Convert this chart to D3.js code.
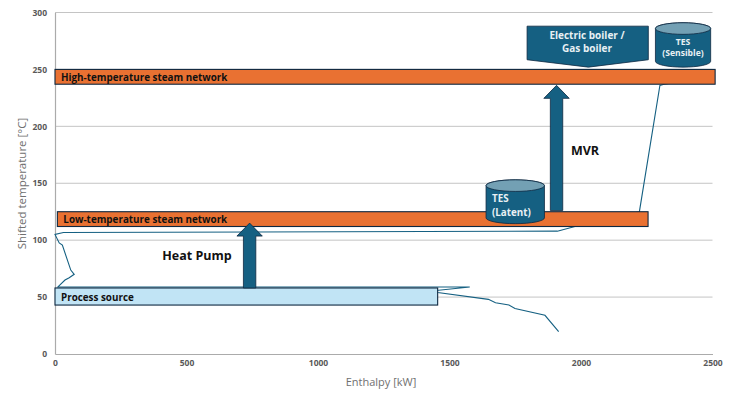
<!DOCTYPE html>
<html>
<head>
<meta charset="utf-8">
<script src="https://cdn.jsdelivr.net/npm/d3@7"></script>
<style>
  html, body { margin: 0; padding: 0; background: #fff; }
  svg { display: block; }
  text { font-family: "Open Sans", sans-serif; }
</style>
</head>
<body>
<svg width="731" height="393"></svg>
<script>
// composite curve
const curveEnthalpy = [1915, 1863, 1749, 1726, 1675, 1648, 1455, 1440, 1577, 11, 38, 54, 73, 60, 28, 16, 0, 32, 1910, 1977, 2222, 2300, 2316, 2400];
const curveTemp = [19.6, 34, 40, 43, 45, 48, 54, 55.5, 58.8, 59, 65, 67, 70, 73.7, 95.6, 97.6, 105, 106.7, 107.9, 112, 125, 236, 237, 240];

// network / source bars
const barNames = ["High-temperature steam network", "Low-temperature steam network", "Process source"];
const barStart = [0, 9, 0];
const barEnd = [2510, 2255, 1455];
const barTop = [250, 125, 58];
const barBottom = [237, 112, 43];

const xTicks = [0, 500, 1000, 1500, 2000, 2500];
const yTicks = [0, 50, 100, 150, 200, 250, 300];

const svg = d3.select("svg");
const x = d3.scaleLinear().domain([0, 2500]).range([55, 712.5]);
const y = d3.scaleLinear().domain([0, 300]).range([354, 12.5]);

const blue = "#156082";
const outline = "#0e2841";

// grid
svg.append("g").selectAll("line")
    .data(yTicks.slice(1))
    .enter()
    .append("line")
    .attr("x1", x(0))
    .attr("x2", x(2500))
    .attr("y1", d => y(d))
    .attr("y2", d => y(d))
    .attr("stroke", "#c4c4c4")
    .attr("stroke-width", 1);

// axes
const xAxis = svg.append("g")
    .attr("transform", `translate(0,${y(0)})`)
    .call(d3.axisBottom(x).tickValues(xTicks).tickFormat(d3.format("d")).tickSize(0).tickPadding(6));
const yAxis = svg.append("g")
    .attr("transform", `translate(${x(0)},0)`)
    .call(d3.axisLeft(y).tickValues(yTicks).tickFormat(d3.format("d")).tickSize(0).tickPadding(8));
[xAxis, yAxis].forEach(a => {
    a.select(".domain").attr("stroke", "#ababab").attr("stroke-width", 1.2);
    a.selectAll("text")
        .attr("fill", "#595959")
        .style("font-family", '"Open Sans", sans-serif')
        .style("font-size", "8.5px")
        .style("font-weight", 700);
});

svg.append("text")
    .attr("x", 381)
    .attr("y", 386)
    .attr("text-anchor", "middle")
    .attr("fill", "#707070")
    .style("font-size", "11px")
    .text("Enthalpy [kW]");
svg.append("text")
    .attr("transform", "translate(25.5,183.5) rotate(-90)")
    .attr("text-anchor", "middle")
    .attr("fill", "#707070")
    .style("font-size", "11.5px")
    .text("Shifted temperature [°C]");

// curve
const line = d3.line()
    .x((d, i) => x(curveEnthalpy[i]))
    .y((d, i) => y(curveTemp[i]));
svg.append("path")
    .attr("d", line(curveEnthalpy))
    .attr("fill", "none")
    .attr("stroke", blue)
    .attr("stroke-width", 1.1);

// bars
const barFill = ["#e97132", "#e97132", "#c1e4f5"];
svg.append("g").selectAll("rect")
    .data(barNames)
    .enter()
    .append("rect")
    .attr("x", (_, i) => x(barStart[i]))
    .attr("y", (_, i) => y(barTop[i]))
    .attr("width", (_, i) => x(barEnd[i]) - x(barStart[i]))
    .attr("height", (_, i) => y(barBottom[i]) - y(barTop[i]))
    .attr("fill", (_, i) => barFill[i])
    .attr("stroke", outline)
    .attr("stroke-width", 1.1);

svg.append("g").selectAll("text")
    .data(barNames)
    .enter()
    .append("text")
    .attr("x", (_, i) => x(barStart[i]) + 6)
    .attr("y", (_, i) => (y(barTop[i]) + y(barBottom[i])) / 2 + 4)
    .attr("fill", "#111")
    .style("font-size", "9.85px")
    .style("font-weight", 700)
    .text(d => d);

// up arrows, anchored in chart units
function upArrow(kw, tFrom, tTo) {
    const c = x(kw), b = y(tFrom), t = y(tTo);
    const pts = [[c - 6.2, b], [c - 6.2, t + 13], [c - 12.7, t + 13], [c, t], [c + 12.7, t + 13], [c + 6.2, t + 13], [c + 6.2, b]];
    svg.append("polygon")
        .attr("points", pts.join(" "))
        .attr("fill", blue)
        .attr("stroke", outline)
        .attr("stroke-width", 0.8);
}
upArrow(740, 58, 115);
upArrow(1907, 126, 236);

// boiler box
const bx0 = x(1795), bx1 = x(2256), bm = x(2028);
svg.append("polygon")
    .attr("points", [[bx0, y(288)], [bx1, y(288)], [bx1, y(258.5)], [bm, y(252)], [bx0, y(258.5)]].join(" "))
    .attr("fill", blue)
    .attr("stroke", outline)
    .attr("stroke-width", 0.8);

// storage cylinders
function cylinder(kw0, kw1, tTop, tBottom) {
    const x0 = x(kw0), x1 = x(kw1), t = y(tTop), b = y(tBottom);
    const rx = (x1 - x0) / 2, ry = 5.8;
    svg.append("path")
        .attr("d", `M${x0},${t + ry} A${rx},${ry} 0 0 1 ${x1},${t + ry} L${x1},${b - ry} A${rx},${ry} 0 0 1 ${x0},${b - ry} Z`)
        .attr("fill", blue)
        .attr("stroke", outline)
        .attr("stroke-width", 0.8);
    svg.append("ellipse")
        .attr("cx", x0 + rx)
        .attr("cy", t + ry)
        .attr("rx", rx)
        .attr("ry", ry)
        .attr("fill", "#73a0b4")
        .attr("stroke", outline)
        .attr("stroke-width", 0.8);
}
cylinder(2283, 2493, 291, 252);
cylinder(1639, 1861, 153, 114.5);

// labels
function label(txt, px, py, size, color, anchor) {
    svg.append("text")
        .attr("x", px)
        .attr("y", py)
        .attr("text-anchor", anchor || "middle")
        .attr("fill", color)
        .style("font-size", size + "px")
        .style("font-weight", 700)
        .text(txt);
}
label("Heat Pump", 197, 260, 12.5, "#111");
label("MVR", 585, 155, 12.5, "#111");
label("Electric boiler /", 587, 38.5, 10, "#e8f0f4");
label("Gas boiler", 587, 51.5, 10, "#e8f0f4");
label("TES", 683, 45, 8.6, "#e8f0f4");
label("(Sensible)", 683, 56, 8.6, "#e8f0f4");
label("TES", 492, 202, 9.8, "#e8f0f4", "start");
label("(Latent)", 492, 216, 9.8, "#e8f0f4", "start");
</script>
</body>
</html>
